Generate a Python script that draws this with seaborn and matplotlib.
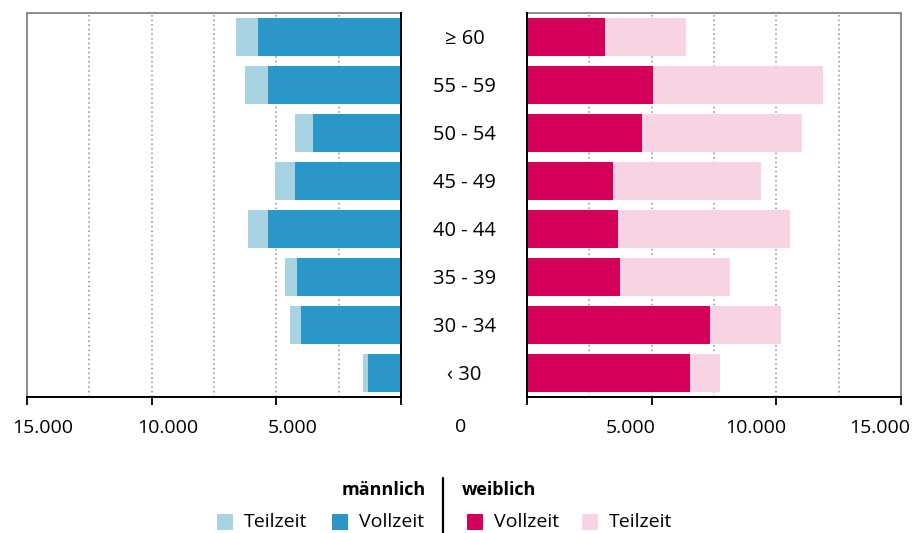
import matplotlib
matplotlib.use("Agg")
import matplotlib.pyplot as plt
import matplotlib.transforms as mtrans
import seaborn as sns
import pandas as pd
from matplotlib.patches import Rectangle
from matplotlib.lines import Line2D

# ---- data ----
age_groups = ["≥ 60", "55 - 59", "50 - 54", "45 - 49", "40 - 44", "35 - 39", "30 - 34", "‹ 30"]
male_vollzeit = [5750, 5335, 3545, 4240, 5350, 4170, 4010, 1325]
male_teilzeit = [870, 910, 720, 810, 775, 470, 430, 190]
female_vollzeit = [3130, 5050, 4610, 3435, 3635, 3730, 7340, 6550]
female_teilzeit = [3235, 6835, 6435, 5935, 6915, 4410, 2860, 1175]
x_ticks = [0, 5000, 10000, 15000]
x_ticklabels = ["0", "5.000", "10.000", "15.000"]

male_total = [v + t for v, t in zip(male_vollzeit, male_teilzeit)]
female_total = [v + t for v, t in zip(female_vollzeit, female_teilzeit)]

df = pd.DataFrame({
    "age": age_groups,
    "m_vz": male_vollzeit, "m_tot": male_total,
    "f_vz": female_vollzeit, "f_tot": female_total,
})

C_MVZ = "#2B97C8"
C_MTZ = "#A7D3E3"
C_FVZ = "#D4005A"
C_FTZ = "#F7D3E3"
GRAY = "#8C8C8C"

sns.set_theme(style="white")
plt.rcParams["font.family"] = ["Open Sans", "DejaVu Sans"]
plt.rcParams["text.color"] = "black"
plt.rcParams["xtick.color"] = "black"
plt.rcParams["ytick.color"] = "black"

W, H = 917, 533
fig = plt.figure(figsize=(W / 100, H / 100), dpi=100)

def fx(px):
    return px / W

def fy(py):
    return 1 - py / H

ax_top, ax_bot = 13, 397
axL = fig.add_axes([fx(27), fy(ax_bot), fx(401) - fx(27), fy(ax_top) - fy(ax_bot)])
axR = fig.add_axes([fx(527), fy(ax_bot), fx(901) - fx(527), fy(ax_top) - fy(ax_bot)])

bw = 0.79
TICK_FS = 14
for ax, tot, vz, ctot, cvz in [(axL, "m_tot", "m_vz", C_MTZ, C_MVZ),
                                (axR, "f_tot", "f_vz", C_FTZ, C_FVZ)]:
    sns.barplot(data=df, x=tot, y="age", order=age_groups, color=ctot, width=bw,
                saturation=1, linewidth=0, ax=ax, orient="h")
    sns.barplot(data=df, x=vz, y="age", order=age_groups, color=cvz, width=bw,
                saturation=1, linewidth=0, ax=ax, orient="h")
    ax.set_xlabel("")
    ax.set_ylabel("")
    ax.set_ylim(len(age_groups) - 0.5, -0.5)
    ax.set_xticks(x_ticks)
    ax.set_xticks([2500, 7500, 12500], minor=True)
    ax.set_axisbelow(True)
    ax.grid(True, which="both", axis="x", linestyle=(0, (1, 2)), color=GRAY, linewidth=1.1)
    ax.grid(False, axis="y")
    ax.tick_params(axis="x", which="major", length=6, width=1.3, color="black",
                   labelcolor="black", direction="out", labelsize=TICK_FS, pad=10, bottom=True)
    ax.tick_params(axis="x", which="minor", length=0)
    for s in ax.spines.values():
        s.set_linewidth(1.4)

axL.set_xlim(15000, 0)
axR.set_xlim(0, 15000)

axL.set_xticklabels([""] + x_ticklabels[1:])
axR.set_xticklabels([""] + x_ticklabels[1:])

# shift tick labels toward the centre as in the reference
offL = mtrans.ScaledTranslation(16 / 100, 0, fig.dpi_scale_trans)
offR = mtrans.ScaledTranslation(-21 / 100, 0, fig.dpi_scale_trans)
for lbl in axL.get_xticklabels():
    lbl.set_transform(lbl.get_transform() + offL)
for lbl in axR.get_xticklabels():
    lbl.set_transform(lbl.get_transform() + offR)

axL.set_yticks([])
axL.spines["left"].set_color(GRAY)
axL.spines["top"].set_color(GRAY)
axL.spines["right"].set_color("black")
axL.spines["bottom"].set_color("black")
axL.spines["right"].set_zorder(5)

axR.spines["right"].set_color(GRAY)
axR.spines["top"].set_color(GRAY)
axR.spines["left"].set_color("black")
axR.spines["bottom"].set_color("black")
axR.spines["left"].set_zorder(5)
axR.tick_params(axis="y", length=0, pad=45, labelsize=14.5, labelcolor="black")
for lbl in axR.get_yticklabels():
    lbl.set_horizontalalignment("center")

# central zero label
fig.text(fx(461), fy(427), x_ticklabels[0], ha="center", va="center", fontsize=TICK_FS)

# ---- legend ----
fig.text(fx(426), fy(490), "männlich", ha="right", va="center", fontsize=13, fontweight="bold")
fig.text(fx(462), fy(490), "weiblich", ha="left", va="center", fontsize=13, fontweight="bold")
fig.add_artist(Line2D([fx(443), fx(443)], [fy(478), fy(533)], color="black", linewidth=1.6,
                      transform=fig.transFigure))
items = [(217, C_MTZ, "Teilzeit"), (332, C_MVZ, "Vollzeit"),
         (467, C_FVZ, "Vollzeit"), (582, C_FTZ, "Teilzeit")]
for x0, col, txt in items:
    fig.add_artist(Rectangle((fx(x0), fy(530)), fx(16), fy(514) - fy(530), color=col,
                             transform=fig.transFigure, linewidth=0))
    fig.text(fx(x0 + 27), fy(522), txt, ha="left", va="center", fontsize=14)

fig.savefig("out.png", dpi=100)
